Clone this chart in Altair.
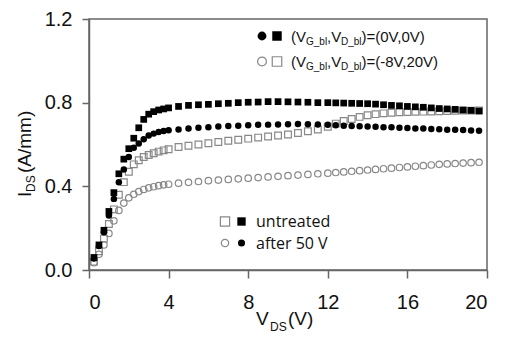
import altair as alt
import pandas as pd

# ---- data ----
V_DS = [0.25, 0.5, 0.75, 1.0, 1.25, 1.5, 1.75, 2.0, 2.25, 2.5, 2.75, 3.0, 3.25, 3.5, 3.75, 4.0,
        4.5, 5.0, 5.5, 6.0, 6.5, 7.0, 7.5, 8.0, 8.5, 9.0, 9.5, 10.0, 10.5, 11.0, 11.5, 12.0,
        12.4, 12.8, 13.2, 13.6, 14.0, 14.4, 14.8, 15.2, 15.6, 16.0, 16.4, 16.8, 17.2, 17.6,
        18.0, 18.4, 18.8, 19.2, 19.6]

untreated_0V = [0.06, 0.12, 0.19, 0.28, 0.37, 0.46, 0.53, 0.58, 0.63, 0.68, 0.72, 0.745, 0.757, 0.765, 0.77, 0.775,
                0.782, 0.787, 0.79, 0.792, 0.795, 0.797, 0.80, 0.802, 0.803, 0.805, 0.805, 0.804, 0.803, 0.802, 0.80, 0.80,
                0.799, 0.798, 0.797, 0.796, 0.795, 0.793, 0.79, 0.787, 0.785, 0.782, 0.78, 0.778, 0.775, 0.772,
                0.77, 0.768, 0.765, 0.763, 0.76]

after50_0V = [0.055, 0.115, 0.18, 0.26, 0.34, 0.42, 0.48, 0.54, 0.585, 0.605, 0.625, 0.643, 0.652, 0.66, 0.665, 0.668,
              0.672, 0.676, 0.68, 0.683, 0.686, 0.688, 0.69, 0.692, 0.694, 0.695, 0.696, 0.697, 0.698, 0.697, 0.696, 0.694,
              0.692, 0.69, 0.688, 0.687, 0.686, 0.685, 0.683, 0.682, 0.68, 0.679, 0.677, 0.676, 0.674, 0.673,
              0.671, 0.67, 0.669, 0.667, 0.666]

untreated_8V = [0.04, 0.09, 0.15, 0.22, 0.29, 0.36, 0.42, 0.47, 0.505, 0.525, 0.54, 0.55, 0.558, 0.566, 0.572, 0.577,
                0.588, 0.594, 0.60, 0.606, 0.612, 0.618, 0.623, 0.628, 0.633, 0.638, 0.643, 0.648, 0.655, 0.663, 0.672, 0.685,
                0.70, 0.712, 0.722, 0.732, 0.74, 0.745, 0.749, 0.752, 0.754, 0.755, 0.756, 0.757, 0.758, 0.759,
                0.76, 0.761, 0.762, 0.762, 0.763]

after50_8V = [0.035, 0.075, 0.12, 0.175, 0.235, 0.285, 0.32, 0.345, 0.362, 0.375, 0.385, 0.393, 0.398, 0.403, 0.407, 0.41,
              0.415, 0.419, 0.423, 0.427, 0.43, 0.433, 0.436, 0.439, 0.442, 0.445, 0.448, 0.451, 0.454, 0.457, 0.46, 0.463,
              0.466, 0.469, 0.472, 0.475, 0.478, 0.481, 0.484, 0.487, 0.49, 0.493, 0.496, 0.499, 0.502, 0.505,
              0.507, 0.509, 0.511, 0.513, 0.515]

x_ticks = [0, 4, 8, 12, 16, 20]
y_ticks = [0.0, 0.4, 0.8, 1.2]

rows = []
for name, vals in [("untreated_0V", untreated_0V), ("after50_0V", after50_0V),
                   ("untreated_8V", untreated_8V), ("after50_8V", after50_8V)]:
    for v, i in zip(V_DS, vals):
        rows.append({"V": v, "I": i, "series": name})
df = pd.DataFrame(rows)

W, H = 398, 251
GREY = "#888888"
FONT = "Liberation Sans"

xs = alt.X("V:Q", scale=alt.Scale(domain=[0, 20], nice=False),
           axis=alt.Axis(values=x_ticks, title=None, format="d"))
ys = alt.Y("I:Q", scale=alt.Scale(domain=[0, 1.2], nice=False),
           axis=alt.Axis(values=y_ticks, title=None, format=".1f"))

def series_layer(name, shape, filled, size):
    if filled:
        m = alt.Chart(df).mark_point(shape=shape, filled=True, size=size, color="black", opacity=1)
    else:
        m = alt.Chart(df).mark_point(shape=shape, filled=False, size=size, stroke=GREY,
                                     strokeWidth=1.2, opacity=1)
    return m.encode(x=xs, y=ys).transform_filter(alt.datum.series == name)

one = pd.DataFrame({"a": [0]})

def txt(s, x, y, size, font=FONT, angle=0, color="#111111", baseline="alphabetic"):
    kw = dict(align="left", baseline=baseline, fontSize=size, font=font, color=color)
    if angle:
        kw["angle"] = angle
    return alt.Chart(one).mark_text(**kw).encode(
        x=alt.value(x), y=alt.value(y), text=alt.value(s))

def sym(x, y, shape, filled, size):
    if filled:
        m = alt.Chart(one).mark_point(shape=shape, filled=True, size=size, color="black", opacity=1)
    else:
        m = alt.Chart(one).mark_point(shape=shape, filled=False, size=size, stroke=GREY,
                                      strokeWidth=1.2, opacity=1)
    return m.encode(x=alt.value(x), y=alt.value(y))

OX, OY = 89, 19  # view origin in page pixels

layers = [
    series_layer("after50_8V", "circle", False, 42),
    series_layer("untreated_8V", "square", False, 45),
    series_layer("after50_0V", "circle", True, 42),
    series_layer("untreated_0V", "square", True, 45),
]

# y-axis title I_DS(A/mm)
layers += [
    txt("I", 31 - OX, 197 - OY, 19, angle=270),
    txt("DS", 35 - OX, 192 - OY, 12, angle=270),
    txt("(A/mm)", 31 - OX, 173 - OY, 19, angle=270),
]
# x-axis title V_DS(V)
layers += [
    txt("V", 256 - OX, 325 - OY, 19),
    txt("DS", 270 - OX, 331 - OY, 12),
    txt("(V)", 288 - OX, 325 - OY, 19),
]

# top legend
for row_y, tail, filled in [(36, ")=(0V,0V)", True), (61.5, ")=(-8V,20V)", False)]:
    layers += [sym(262 - OX, row_y - OY, "circle", filled, 78),
               sym(277 - OX, row_y - OY, "square", filled, 90)]
    b = row_y + 5.5
    x0 = 291
    layers += [
        txt("(V", x0 - OX, b - OY, 15),
        txt("G_bl", x0 + 15 - OX, b + 3 - OY, 10),
        txt(",V", x0 + 36 - OX, b - OY, 15),
        txt("D_bl", x0 + 50 - OX, b + 3 - OY, 10),
        txt(tail, x0 + 70.5 - OX, b - OY, 15),
    ]

# bottom legend
layers += [
    sym(225 - OX, 221.5 - OY, "square", False, 85),
    sym(241.5 - OX, 221.5 - OY, "square", True, 70),
    sym(225 - OX, 243 - OY, "circle", False, 55),
    sym(241.5 - OX, 243 - OY, "circle", True, 50),
    txt("untreated", 256 - OX, 226.7 - OY, 16, font="Open Sans"),
    txt("after 50 V", 256 - OX, 249 - OY, 16, font="Open Sans"),
]

chart = alt.layer(*layers).properties(
    width=W, height=H,
    autosize=alt.AutoSizeParams(type="none"),
    padding={"left": OX, "top": OY, "right": 505 - OX - W, "bottom": 339 - OY - H},
    background="white",
).configure_view(
    stroke="#666666", strokeWidth=1.5
).configure_axis(
    grid=False, domainColor="#666666", domainWidth=1.5, tickColor="#666666", tickWidth=1.5,
    labelFont=FONT, labelFontSize=20, labelColor="#111111"
).configure_axisX(
    tickSize=8, labelPadding=14
).configure_axisY(
    tickSize=7, labelPadding=10
)

chart.save("out.html", embed_options={"renderer": "svg", "actions": False})
